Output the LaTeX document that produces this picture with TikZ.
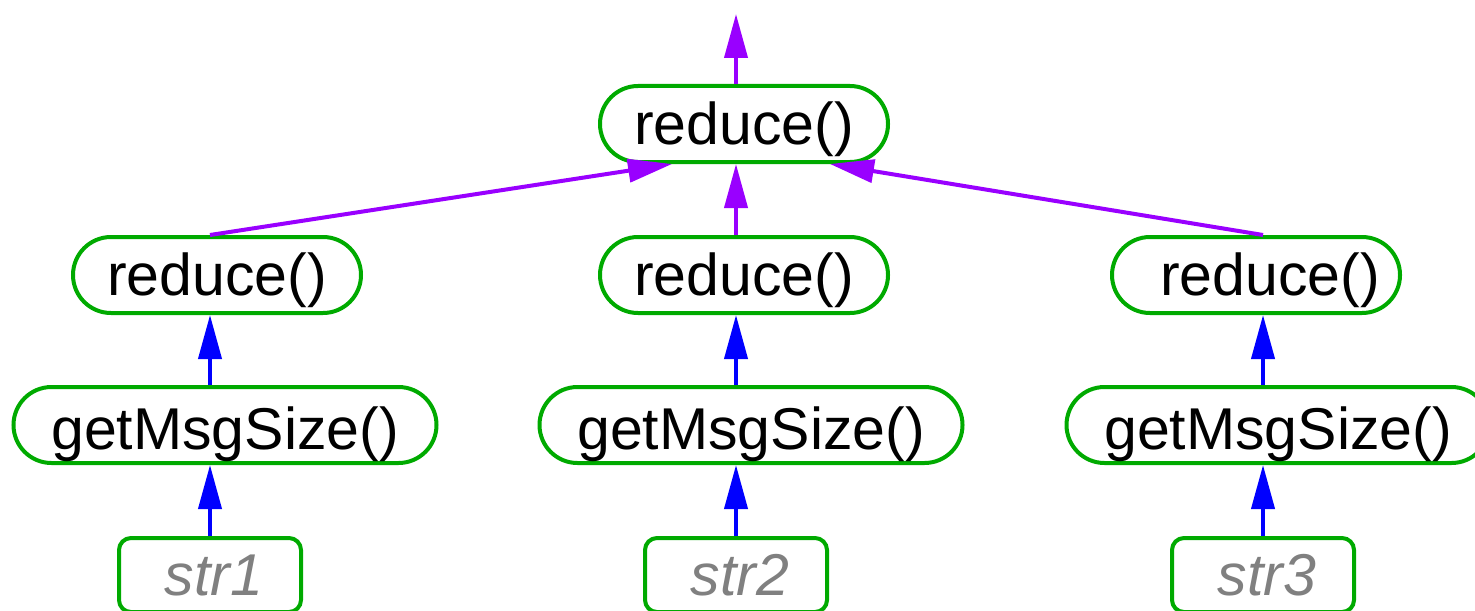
\documentclass[tikz,border=0pt]{standalone}
\usepackage{fontspec}
\setmainfont{Liberation Sans}
\usepackage{tikz}
\usetikzlibrary{arrows.meta}
\usetikzlibrary{positioning}
\definecolor{boxgreen}{RGB}{0,170,0}
\definecolor{redpurple}{RGB}{153,0,255}
\definecolor{strgray}{RGB}{128,128,128}
\tikzstyle{fun}=[draw=boxgreen, line width=2pt, rounded corners=19pt, minimum height=38pt, inner sep=0pt, text depth=6.2pt, font=\fontsize{29.5pt}{34pt}\selectfont]
\tikzstyle{val}=[draw=boxgreen, line width=2pt, rounded corners=6pt, minimum width=91pt, minimum height=37pt, inner sep=0pt, text=strgray, font=\fontsize{29.5pt}{34pt}\selectfont\itshape]
\tikzset{>={Triangle[length=22pt,width=11.5pt]}}

\begin{document}
\begin{tikzpicture}[x=0.5pt, y=-0.5pt]
        \useasboundingbox (0,0) rectangle (1475,610);

        % Top
        \node at (744, 124) [fun, text height=26.5pt, minimum width=144pt] (top) {reduce()};
        \coordinate (out) at (736, 14);

        % Columns
        \foreach \i/\x/\gx/\rx/\sh in {1/210/225/217/0, 2/736/751/744/0, 3/1263/1278/1256/14}
        {
          \node at (\x, 575) [val] (str_\i) {\hspace*{4pt}str\i};
          \node at (\gx, 425) [fun, text height=30.5pt, minimum width=211.5pt] (get_\i) {getMsgSize()};
          \node at (\rx, 275) [fun, text height=26.5pt, minimum width=144pt] (red_\i) {\hspace*{\sh pt}reduce()};
        }

        % Map arrows
        \foreach \i in {1,...,3}
        {
          \draw [->, blue, line width=2pt] (str_\i.north) to (str_\i.north |- get_\i.south);
          \draw [->, blue, line width=2pt] (str_\i.north |- get_\i.north) to (str_\i.north |- red_\i.south);
        }

        % Reduce arrows
        \draw [->, redpurple, line width=2pt] (red_1.north -| str_1.north) to ([xshift=-36pt]top.south);
        \draw [->, redpurple, line width=2pt] (red_2.north -| str_2.north) to ([xshift=-4pt]top.south);
        \draw [->, redpurple, line width=2pt] (red_3.north -| str_3.north) to ([xshift=43pt]top.south);
        \draw [->, redpurple, line width=2pt] ([xshift=-4pt]top.north) to (out);
      \end{tikzpicture}
\end{document}
